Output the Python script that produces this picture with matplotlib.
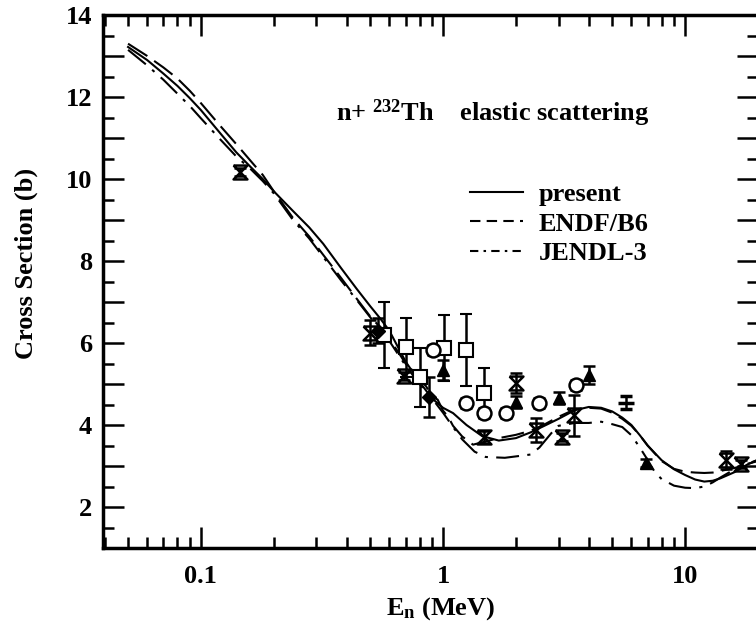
import numpy as np
import matplotlib
matplotlib.use("Agg")
import matplotlib.pyplot as plt
from matplotlib.lines import Line2D
from matplotlib.ticker import MultipleLocator, FixedLocator, FuncFormatter, NullFormatter

plt.rcParams['font.family'] = ['Liberation Serif', 'DejaVu Serif']
plt.rcParams['font.weight'] = 'bold'
plt.rcParams['mathtext.fontset'] = 'custom'
plt.rcParams['mathtext.rm'] = 'Liberation Serif:bold'
plt.rcParams['mathtext.it'] = 'Liberation Serif:bold'
plt.rcParams['mathtext.bf'] = 'Liberation Serif:bold'

# ---- evaluated curves ----
present_x = [0.05, 0.06, 0.07, 0.08, 0.09, 0.1, 0.12, 0.14, 0.16, 0.18, 0.2, 0.24, 0.28, 0.32,
             0.38, 0.44, 0.5, 0.55, 0.6, 0.7, 0.8, 0.9, 1.0, 1.1, 1.25, 1.45, 1.7, 2.0, 2.3,
             2.6, 3.0, 3.5, 4.0, 4.5, 5.0, 5.5, 6.0, 6.5, 7.0, 8.0, 9.0, 10, 11, 12, 13, 14,
             16, 18, 20]
present_y = [13.22, 12.9, 12.57, 12.27, 11.97, 11.68, 11.12, 10.65, 10.3, 10.0, 9.7, 9.22, 8.82, 8.42,
             7.82, 7.32, 6.9, 6.6, 6.3, 5.55, 5.05, 4.65, 4.42, 4.29, 4.0, 3.73, 3.62, 3.68, 3.82,
             3.97, 4.15, 4.36, 4.44, 4.42, 4.33, 4.18, 4.0, 3.75, 3.5, 3.14, 2.92, 2.78, 2.67,
             2.62, 2.64, 2.7, 2.85, 3.03, 3.15]

endf_x = [0.05, 0.06, 0.07, 0.08, 0.09, 0.1, 0.12, 0.14, 0.16, 0.18, 0.2, 0.24, 0.28, 0.32,
          0.38, 0.44, 0.5, 0.55, 0.6, 0.65, 0.7, 0.75, 0.8, 0.85, 0.9, 0.95, 1.0, 1.05, 1.1,
          1.2, 1.33, 1.5, 1.7, 2.0, 2.3, 2.6, 3.0, 3.5, 4.0, 4.5, 5.0, 5.5, 6.0, 6.5, 7.0,
          8.0, 9.0, 10, 11, 12, 13, 14, 16, 18, 20]
endf_y = [13.3, 13.0, 12.72, 12.45, 12.15, 11.85, 11.3, 10.85, 10.45, 10.1, 9.7, 9.05, 8.6, 8.15,
          7.58, 7.08, 6.65, 6.38, 6.08, 5.8, 5.5, 5.3, 5.1, 4.95, 4.7, 4.62, 4.35, 4.2, 3.98,
          3.72, 3.52, 3.6, 3.68, 3.76, 3.86, 4.0, 4.2, 4.38, 4.42, 4.4, 4.3, 4.15, 3.98, 3.75,
          3.5, 3.12, 2.93, 2.86, 2.84, 2.83, 2.84, 2.88, 2.95, 3.05, 3.15]

jendl_x = [0.05, 0.06, 0.07, 0.08, 0.09, 0.1, 0.12, 0.14, 0.16, 0.18, 0.2, 0.24, 0.28, 0.32,
           0.38, 0.44, 0.5, 0.55, 0.6, 0.7, 0.8, 0.9, 1.0, 1.1, 1.2, 1.35, 1.5, 1.8, 2.1, 2.3,
           2.5, 2.8, 3.0, 3.5, 4.0, 4.5, 5.0, 5.5, 6.0, 6.5, 7.0, 7.5, 8.0, 9.0, 10, 11, 12,
           13, 14, 16, 18, 20]
jendl_y = [13.15, 12.77, 12.42, 12.08, 11.78, 11.48, 10.97, 10.55, 10.25, 9.95, 9.65, 9.0, 8.55,
           8.1, 7.52, 7.05, 6.63, 6.33, 6.05, 5.45, 5.0, 4.65, 4.3, 3.95, 3.65, 3.35, 3.22, 3.2,
           3.25, 3.28, 3.45, 3.8, 3.98, 4.05, 4.05, 4.08, 4.02, 3.95, 3.75, 3.45, 3.15, 2.85,
           2.68, 2.52, 2.47, 2.46, 2.5, 2.6, 2.72, 2.92, 3.05, 3.12]

# ---- experimental data ----
sq_x = [0.57, 0.70, 0.80, 1.01, 1.24, 1.48]
sq_y = [6.2, 5.9, 5.17, 5.88, 5.83, 4.78]
sq_e = [0.8, 0.72, 0.72, 0.8, 0.88, 0.6]

circ_x = [0.91, 1.24, 1.48, 1.82, 2.49, 3.55]
circ_y = [5.83, 4.54, 4.29, 4.29, 4.54, 4.98]
circ_e = [0.12, 0.12, 0.12, 0.12, 0.12, 0.12]

tri_x = [1.0, 2.0, 3.0, 4.0, 6.9]
tri_y = [5.34, 4.56, 4.66, 5.22, 3.07]
tri_e = [0.25, 0.15, 0.15, 0.22, 0.1]

hg_x = [0.145, 0.50, 0.69, 1.48, 2.0, 2.42, 3.1, 3.46, 14.8, 17.0]
hg_y = [10.17, 6.25, 5.2, 3.71, 5.02, 3.88, 3.71, 4.24, 3.15, 3.05]
hg_e = [0.1, 0.3, 0.1, 0.15, 0.25, 0.3, 0.1, 0.5, 0.22, 0.1]

dia_x = [0.54, 0.875]
dia_y = [6.3, 4.68]
dia_e = [0.3, 0.48]

bar_x = [5.7]
bar_y = [4.54]
bar_e = [0.16]

legend_labels = ['present', 'ENDF/B6', 'JENDL-3']
xticks_major = [0.1, 1, 10]
xtick_labels = ['0.1', '1', '10']
yticks_labels = [2, 4, 6, 8, 10, 12, 14]

fig = plt.figure(figsize=(7.56, 6.26), dpi=100)
ax = fig.add_axes([103/756, 78/626, 655/756, 533/626])
ax.set_xscale('log')
ax.set_xlim(0.0394, 20)
ax.set_ylim(1, 14)

ax.plot(present_x, present_y, color='black', lw=1.5, ls='-')
ax.plot(endf_x, endf_y, color='black', lw=1.5, ls=(0, (11, 4)))
ax.plot(jendl_x, jendl_y, color='black', lw=1.5, ls=(0, (11, 4, 1.5, 4)))

hg = [(-1, 1), (1, 1), (-1, -1), (1, -1), (-1, 1)]
ekw = dict(ecolor='black', elinewidth=1.8, capsize=4, capthick=1.8, ls='none')
ax.errorbar(sq_x, sq_y, yerr=sq_e, marker='s', ms=10, mfc='white', mec='black', mew=1.5, **ekw)
ax.errorbar(circ_x, circ_y, yerr=circ_e, marker='o', ms=10, mfc='white', mec='black', mew=1.8, **ekw)
ax.errorbar(tri_x, tri_y, yerr=tri_e, marker='^', ms=9, mfc='black', mec='black', **ekw)
ax.errorbar(hg_x, hg_y, yerr=hg_e, marker=hg, ms=10, mfc='none', mec='black', mew=1.8, **ekw)
ax.errorbar(dia_x, dia_y, yerr=dia_e, marker='D', ms=7, mfc='black', mec='black', **ekw)
ax.errorbar(bar_x, bar_y, yerr=bar_e, marker='_', ms=12, mfc='black', mec='black', mew=2.5, **ekw)

# ticks
ax.xaxis.set_major_locator(FixedLocator(xticks_major))
ax.xaxis.set_major_formatter(FuncFormatter(lambda v, p: dict(zip([round(t, 3) for t in xticks_major], xtick_labels)).get(round(v, 3), '')))
minors = [m * 10.0**d for d in (-2, -1, 0, 1) for m in range(2, 10)]
ax.xaxis.set_minor_locator(FixedLocator(minors))
ax.xaxis.set_minor_formatter(NullFormatter())
ax.yaxis.set_major_locator(MultipleLocator(1))
ax.yaxis.set_minor_locator(MultipleLocator(0.5))
ax.yaxis.set_major_formatter(FuncFormatter(lambda v, p: f'{int(round(v))}' if int(round(v)) in yticks_labels else ''))

ax.tick_params(which='both', direction='in', top=True, right=True, width=1.8, labelsize=19)
ax.tick_params(which='major', length=15)
ax.tick_params(which='minor', length=8)
ax.tick_params(axis='x', which='major', pad=12)
ax.tick_params(axis='y', which='major', pad=8)
for lab in ax.get_xticklabels() + ax.get_yticklabels():
    lab.set_fontweight('bold')
for s in ax.spines.values():
    s.set_linewidth(2.5)

ax.set_xlabel(r'E$_{\rm n}$ (MeV)', fontsize=19, fontweight='bold')
ax.set_ylabel('Cross Section (b)', fontsize=19, fontweight='bold')
ax.xaxis.set_label_coords((441-103)/655, -0.088)
ax.yaxis.set_label_coords(-0.10, 0.533)

ax.text(0.355, 0.816, r'n+ $^{232}$Th    elastic scattering', transform=ax.transAxes,
        fontsize=19, fontweight='bold', va='center', ha='left')

handles = [Line2D([], [], color='black', lw=1.5, ls='-'),
           Line2D([], [], color='black', lw=1.5, ls=(0, (5, 3))),
           Line2D([], [], color='black', lw=1.5, ls=(0, (4, 2.5, 1.2, 2.5)))]
leg = ax.legend(handles, legend_labels, loc='upper left', bbox_to_anchor=(0.56, 0.685),
                frameon=False, fontsize=19, handlelength=2.0, handletextpad=0.6,
                labelspacing=0.22, borderpad=0, borderaxespad=0)
for t in leg.get_texts():
    t.set_fontweight('bold')

fig.savefig('out.png', dpi=100)
